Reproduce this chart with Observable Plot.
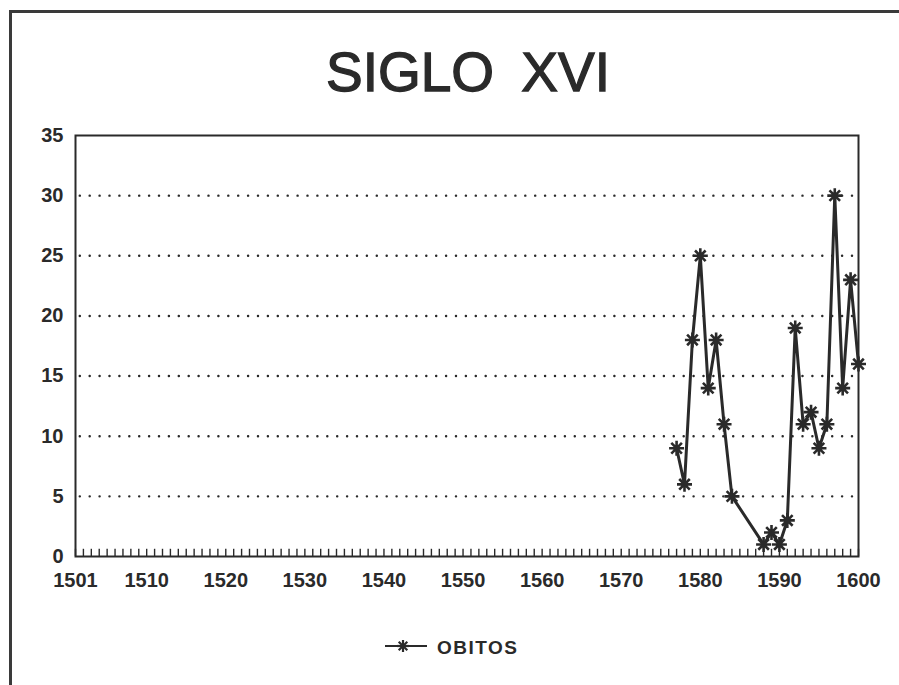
<!DOCTYPE html>
<html>
<head>
<meta charset="utf-8">
<script src="https://cdn.jsdelivr.net/npm/d3@7"></script>
<script src="https://cdn.jsdelivr.net/npm/@observablehq/plot@0.6"></script>
<style>
  html, body { margin: 0; padding: 0; background: #fff; }
  #page { position: relative; width: 899px; height: 685px; overflow: hidden; background: #fff;
          font-family: "Liberation Sans", Arial, Helvetica, sans-serif; color: #2a2a2a; }
  #border { position: absolute; left: 9px; top: 10px; right: -5px; bottom: -5px;
            border-top: 3px solid #3a3a3a; border-left: 3px solid #3a3a3a; }
  #title { position: absolute; left: 468px; top: 42px; transform: translateX(-50%);
           font-size: 55px; line-height: 60px; white-space: pre; word-spacing: 12px; color: #2a2a2a;
           -webkit-text-stroke: 1.3px #2a2a2a; }
  #chart { position: absolute; left: 0; top: 110px; }
  #legend { position: absolute; left: 383px; top: 637px; display: flex; align-items: center; }
  #legend span { font-size: 19px; font-weight: bold; letter-spacing: 1.5px; margin-left: 8px; color: #2a2a2a; }
</style>
</head>
<body>
<div id="page">
  <div id="border"></div>
  <div id="title">SIGLO XVI</div>
  <div id="chart"></div>
  <div id="legend">
    <svg width="46" height="20" viewBox="0 0 46 20">
      <line x1="2" y1="8" x2="44" y2="8" stroke="#2a2a2a" stroke-width="2"/>
      <g stroke="#2a2a2a" stroke-width="2.2" transform="translate(20,8)">
        <line x1="-6" y1="0" x2="6" y2="0"/>
        <line x1="0" y1="-6" x2="0" y2="6"/>
        <line x1="-4.3" y1="-4.3" x2="4.3" y2="4.3"/>
        <line x1="-4.3" y1="4.3" x2="4.3" y2="-4.3"/>
      </g>
    </svg>
    <span>OBITOS</span>
  </div>
</div>
<script>
// Data
const years  = [1577, 1578, 1579, 1580, 1581, 1582, 1583, 1584,
                1588, 1589, 1590, 1591, 1592, 1593, 1594, 1595, 1596, 1597, 1598, 1599, 1600];
const obitos = [9, 6, 18, 25, 14, 18, 11, 5,
                1, 2, 1, 3, 19, 11, 12, 9, 11, 30, 14, 23, 16];
const xTickLabels = [1501, 1510, 1520, 1530, 1540, 1550, 1560, 1570, 1580, 1590, 1600];
const yTicks = [0, 5, 10, 15, 20, 25, 30, 35];
const gridValues = [5, 10, 15, 20, 25, 30];
const xDomain = [1501, 1600];
const yDomain = [0, 35];

const data = years.map((year, i) => ({year, value: obitos[i]}));
const minorYears = d3.range(xDomain[0], xDomain[1] + 1);

// 8-spoke asterisk symbol
const star8 = {
  draw(ctx, size) {
    const r = Math.sqrt(size / Math.PI);
    for (let k = 0; k < 4; k++) {
      const a = k * Math.PI / 4;
      const dx = r * Math.cos(a), dy = r * Math.sin(a);
      ctx.moveTo(-dx, -dy);
      ctx.lineTo(dx, dy);
    }
  }
};

const ink = "#2a2a2a";

const chart = Plot.plot({
  width: 899,
  height: 480,
  marginTop: 25,
  marginBottom: 34,
  marginLeft: 75,
  marginRight: 41,
  style: {fontFamily: '"Liberation Sans", Arial, sans-serif', fontSize: "20px", fontWeight: "bold", color: ink, background: "transparent"},
  x: {domain: xDomain, label: null},
  y: {domain: yDomain, label: null},
  marks: [
    Plot.ruleY(gridValues, {x1: 1501.6, x2: 1599.3, stroke: ink, strokeWidth: 2.4, strokeDasharray: "0.1,9.8", strokeLinecap: "round"}),
    Plot.ruleX(minorYears, {x: d => d, y1: 0, y2: 0.6, stroke: ink, strokeWidth: 1.4}),
    Plot.frame({stroke: ink, strokeWidth: 2}),
    Plot.axisX({ticks: xTickLabels, tickSize: 0, tickPadding: 16, tickFormat: d => String(d), fontSize: 20, fontWeight: "bold"}),
    Plot.axisY({ticks: yTicks, tickSize: 0, tickPadding: 12, tickFormat: d => String(d), fontSize: 20, fontWeight: "bold"}),
    Plot.line(data, {x: "year", y: "value", stroke: ink, strokeWidth: 3}),
    Plot.dot(data, {x: "year", y: "value", symbol: star8, r: 7.5, fill: "none", stroke: ink, strokeWidth: 2.6})
  ]
});
document.getElementById("chart").appendChild(chart);
</script>
</body>
</html>
